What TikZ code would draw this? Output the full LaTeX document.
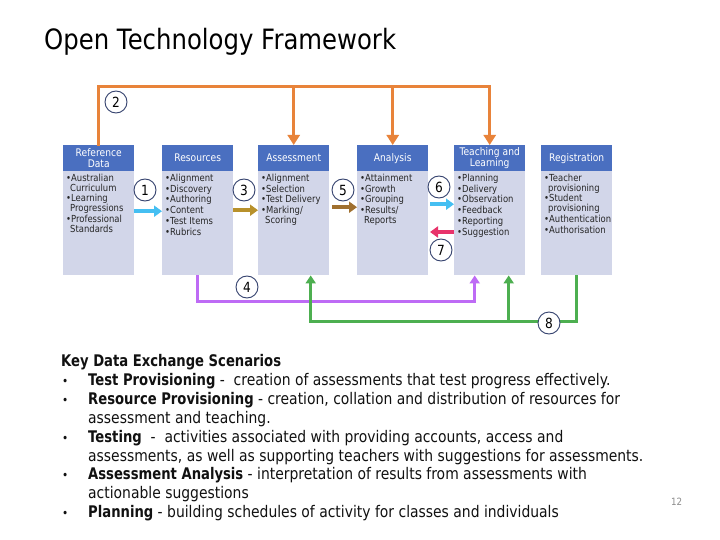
\documentclass[tikz,border=0pt]{standalone}
\usepackage{fontspec}
\setmainfont{DejaVu Sans}[FakeStretch=0.87, BoldFeatures={FakeStretch=0.823}]
\usetikzlibrary{arrows.meta}
\definecolor{hdr}{HTML}{4A6FC0}
\definecolor{bdy}{HTML}{D2D6E9}
\definecolor{cOrange}{HTML}{E8833A}
\definecolor{cCyan}{HTML}{45BFF2}
\definecolor{cGold}{HTML}{B8912B}
\definecolor{cBrown}{HTML}{A0702F}
\definecolor{cPink}{HTML}{E8336B}
\definecolor{cPurple}{HTML}{BE6BF5}
\definecolor{cGreen}{HTML}{4DAF50}
\definecolor{cNavy}{HTML}{34426E}
\definecolor{txt}{HTML}{111111}
\tikzset{
  hbox/.style={fill=hdr, draw=none, minimum width=71pt, minimum height=26pt, anchor=north west, inner sep=0pt, text=white, font=\fontsize{10.5}{11}\selectfont, align=center},
  bbox/.style={fill=bdy, draw=none, minimum width=71pt, minimum height=104pt, anchor=north west, inner sep=0pt},
  btext/.style={anchor=north west, inner sep=0pt, align=left, text=black!85, font=\fontsize{9.7}{9.7}\selectfont},
  num/.style={circle, draw=cNavy, line width=0.9pt, fill=white, minimum size=22pt, inner sep=0pt, font=\fontsize{14}{14}\selectfont},
  flow/.style={line width=3.5pt, -{Triangle[length=8pt,width=11pt]}},
  link/.style={line width=3pt},
  lt/.style={anchor=base west, inner sep=0pt, text=txt, font=\fontsize{16}{19}\selectfont},
  bul/.style={anchor=base west, inner sep=0pt, text=txt, font=\fontsize{12}{12}\selectfont},
}
\begin{document}
\begin{tikzpicture}[x=1pt,y=-1pt]
\useasboundingbox (0,0) rectangle (720,540);
\fill[white] (0,0) rectangle (720,540);
\node[anchor=base west, inner sep=0pt, font=\fontsize{28}{30}\selectfont] (title) at (44,50) {Open Technology Framework};

% boxes
\node[hbox] (refh) at (63,145) {Reference\\Data};
\node[bbox] (refb) at (63,171) {};
\node[btext] (reft) at (66,174) {•Australian\\\hspace*{4pt}Curriculum\\[1pt]•Learning\\\hspace*{4pt}Progressions\\[1pt]•Professional\\\hspace*{4pt}Standards};

\node[hbox] (resh) at (162,145) {Resources};
\node[bbox] (resb) at (162,171) {};
\node[btext] (rest) at (165,174) {•Alignment\\[1pt]•Discovery\\[1pt]•Authoring\\[1pt]•Content\\[1pt]•Test Items\\[1pt]•Rubrics};

\node[hbox] (ash) at (258,145) {Assessment};
\node[bbox] (asb) at (258,171) {};
\node[btext] (ast) at (261,174) {•Alignment\\[1pt]•Selection\\[1pt]•Test Delivery\\[1pt]•Marking/\\\hspace*{4pt}Scoring};

\node[hbox] (anh) at (357,145) {Analysis};
\node[bbox] (anb) at (357,171) {};
\node[btext] (ant) at (360,174) {•Attainment\\[1pt]•Growth\\[1pt]•Grouping\\[1pt]•Results/\\\hspace*{4pt}Reports};

\node[hbox] (tlh) at (454,145) {Teaching and\\Learning};
\node[bbox] (tlb) at (454,171) {};
\node[btext] (tlt) at (457,174) {•Planning\\[1pt]•Delivery\\[1pt]•Observation\\[1pt]•Feedback\\[1pt]•Reporting\\[1pt]•Suggestion};

\node[hbox] (rgh) at (541,145) {Registration};
\node[bbox] (rgb) at (541,171) {};
\node[btext] (rgt) at (544,174) {•Teacher\\\hspace*{4pt}provisioning\\[1pt]•Student\\\hspace*{4pt}provisioning\\[1pt]•Authentication\\[1pt]•Authorisation};

% orange top connector
\coordinate (top) at (0,87);
\draw[cOrange, link, line cap=rect] (refh.north) |- (tlh.north |- top);
\draw[cOrange, link, -{Triangle[length=10pt,width=12pt]}] (tlh.north |- top) -- (tlh.north);
\draw[cOrange, link, -{Triangle[length=10pt,width=12pt]}] (ash.north |- top) -- (ash.north);
\draw[cOrange, link, -{Triangle[length=10pt,width=12pt]}] (anh.north |- top) -- (anh.north);

% horizontal flows
\draw[cCyan, flow] ([yshift=12pt]refb.east) -- ([yshift=12pt]refb.east -| resb.west);
\draw[cGold, flow] ([yshift=13pt]resb.east) -- ([yshift=13pt]resb.east -| asb.west);
\draw[cBrown, flow] ([yshift=16pt,xshift=3pt]asb.east) -- ([yshift=16pt]asb.east -| anb.west);
\draw[cCyan, flow] ([yshift=19pt,xshift=2pt]anb.east) -- ([yshift=19pt]anb.east -| tlb.west);
\coordinate (pinkend) at (430,232);
\draw[cPink, flow] (tlb.west |- pinkend) -- (pinkend);

% purple bottom connector
\coordinate (pl) at (0,301);
\draw[cPurple, link, -{Triangle[length=8pt,width=10pt]}] (resb.south) |- ([xshift=-15pt]tlb.south |- pl) -- ([xshift=-15pt]tlb.south);

% green bottom connector
\coordinate (gl) at (0,321);
\draw[cGreen, link, -{Triangle[length=8pt,width=10pt]}] (rgb.south) |- ([xshift=17pt]asb.south |- gl) -- ([xshift=17pt]asb.south);
\draw[cGreen, link, -{Triangle[length=8pt,width=10pt]}] ([xshift=19pt]tlb.south |- gl) -- ([xshift=19pt]tlb.south);

% number circles
\node[num] (n1) at (145,190) {1};
\node[num] (n2) at (116,102) {2};
\node[num] (n3) at (244,190) {3};
\node[num] (n4) at (247,287) {4};
\node[num] (n5) at (343,190) {5};
\node[num] (n6) at (439,187) {6};
\node[num] (n7) at (441,250) {7};
\node[num] (n8) at (549,323) {8};

% key text
\node[lt, font=\fontsize{16}{19}\selectfont\bfseries] (kh) at (61,366) {Key Data Exchange Scenarios};
\node[bul] (b1) at (62,385) {•};
\node[lt] (l1) at (88,385) {\textbf{Test Provisioning} -\ \ creation of assessments that test progress effectively.};
\node[bul] (b2) at (62,404) {•};
\node[lt] (l2) at (88,404) {\textbf{Resource Provisioning} - creation, collation and distribution of resources for};
\node[lt] (l2b) at (88,423) {assessment and teaching.};
\node[bul] (b3) at (62,442) {•};
\node[lt] (l3) at (88,442) {\textbf{Testing}\ \ -\ \ activities associated with providing accounts, access and};
\node[lt] (l3b) at (88,461) {assessments, as well as supporting teachers with suggestions for assessments.};
\node[bul] (b4) at (62,479) {•};
\node[lt] (l4) at (88,479) {\textbf{Assessment Analysis} - interpretation of results from assessments with};
\node[lt] (l4b) at (88,498) {actionable suggestions};
\node[bul] (b5) at (62,517) {•};
\node[lt] (l5) at (88,517) {\textbf{Planning} - building schedules of activity for classes and individuals};
\node[anchor=base west, inner sep=0pt, text=black!45, font=\fontsize{10}{10}\selectfont] (pg) at (671,505) {12};
\end{tikzpicture}
\end{document}
